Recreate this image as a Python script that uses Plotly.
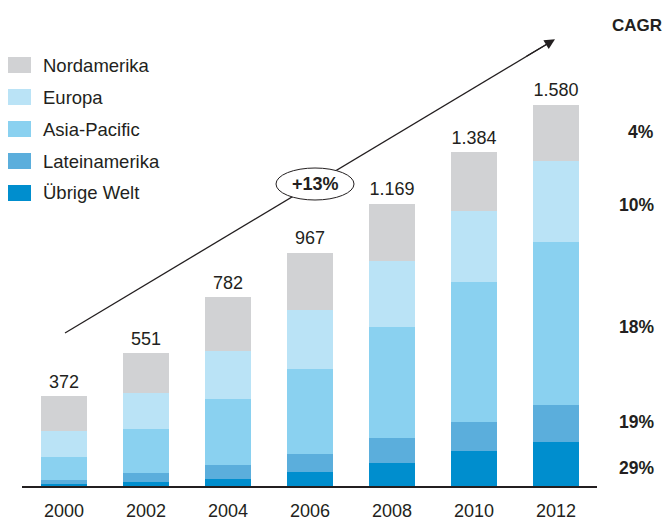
import plotly.graph_objects as go

years = ["2000", "2002", "2004", "2006", "2008", "2010", "2012"]
nordamerika = [145, 166, 222, 239, 236, 243, 232]
europa = [106, 149, 199, 244, 274, 297, 336]
asia_pacific = [96, 182, 274, 351, 460, 580, 677]
lateinamerika = [15, 37, 58, 75, 104, 120, 153]
uebrige_welt = [10, 17, 29, 58, 95, 144, 182]
cagr_labels = ["4%", "10%", "18%", "19%", "29%"]
growth_label = "+13%"

series_names = ["Nordamerika", "Europa", "Asia-Pacific", "Lateinamerika", "Übrige Welt"]
colors = ["#D1D2D4", "#BAE3F6", "#8AD1F0", "#5BAEDC", "#008ECE"]

totals = [a + b + c + d + e for a, b, c, d, e in
          zip(nordamerika, europa, asia_pacific, lateinamerika, uebrige_welt)]

W, H = 666, 521
ml, mr, mt, mb = 22, 69, 10, 35
pw, ph = W - ml - mr, H - mt - mb
FONT = "Liberation Sans, Arial, Helvetica, sans-serif"
TXT = "#231F20"


def px(x):
    return (x - ml) / pw


def py(y):
    return (H - mb - y) / ph


fig = go.Figure()
stack_order = [
    ("Übrige Welt", uebrige_welt, colors[4]),
    ("Lateinamerika", lateinamerika, colors[3]),
    ("Asia-Pacific", asia_pacific, colors[2]),
    ("Europa", europa, colors[1]),
    ("Nordamerika", nordamerika, colors[0]),
]
for name, vals, col in stack_order:
    fig.add_trace(go.Bar(x=years, y=vals, name=name, marker_color=col,
                         marker_line_width=0, showlegend=False))

fig.add_trace(go.Scatter(x=years, y=totals, mode="markers+text",
                         marker=dict(size=5, opacity=0),
                         texttemplate="%{y:,.0f}", textposition="top center",
                         textfont=dict(size=18, color=TXT, family=FONT),
                         showlegend=False, hoverinfo="skip"))

ymax = ph * 1580 / 381.0

fig.update_layout(
    width=W, height=H,
    margin=dict(l=ml, r=mr, t=mt, b=mb, autoexpand=False),
    plot_bgcolor="white", paper_bgcolor="white",
    barmode="stack", bargap=0.44,
    separators=",.",
    font=dict(family=FONT, color=TXT, size=18),
    xaxis=dict(type="category", range=[-0.512, 6.5], showline=True,
               linecolor=TXT, linewidth=1.5, ticks="", showgrid=False,
               automargin=False,
               tickfont=dict(size=18, color=TXT), ticklabelstandoff=8),
    yaxis=dict(range=[0, ymax], visible=False, showgrid=False, automargin=False),
)

shapes = []
annotations = []

# arrow line (tail to near tip), ellipse covering it
shapes.append(dict(type="line", xref="paper", yref="paper",
                   x0=px(65), y0=py(333), x1=px(548), y1=py(43.5),
                   line=dict(color=TXT, width=1.3)))
shapes.append(dict(type="circle", xref="paper", yref="paper",
                   x0=px(276), x1=px(354), y0=py(200), y1=py(168),
                   fillcolor="white", line=dict(color=TXT, width=1)))
annotations.append(dict(xref="paper", yref="paper", x=px(555), y=py(39.3),
                        ax=-30, ay=17.9, text="", showarrow=True,
                        arrowhead=2, arrowsize=1.6, arrowwidth=1.3,
                        arrowcolor=TXT))
annotations.append(dict(xref="paper", yref="paper", x=px(315), y=py(184),
                        text="<b>" + growth_label + "</b>", showarrow=False,
                        font=dict(size=18, color=TXT, family=FONT)))

# legend
leg_order = list(zip(series_names, colors))
for i, (name, col) in enumerate(leg_order):
    yc = 65 + 32 * i
    shapes.append(dict(type="rect", xref="paper", yref="paper",
                       x0=px(8), x1=px(31), y0=py(yc + 8), y1=py(yc - 8),
                       fillcolor=col, line=dict(width=0)))
    annotations.append(dict(xref="paper", yref="paper", x=px(41), y=py(yc),
                            xanchor="left", yanchor="middle", text=name,
                            showarrow=False,
                            font=dict(size=18.5, color=TXT, family=FONT)))

# CAGR column
annotations.append(dict(xref="paper", yref="paper", x=px(664), y=py(26),
                        xanchor="right", yanchor="middle", text="<b>CAGR</b>",
                        showarrow=False, font=dict(size=17, color=TXT, family=FONT)))
cagr_y = [131.7, 205, 327, 421.7, 468]
for lab, yc in zip(cagr_labels, cagr_y):
    annotations.append(dict(xref="paper", yref="paper", x=px(656), y=py(yc),
                            xanchor="right", yanchor="middle", text="<b>" + lab + "</b>",
                            showarrow=False, font=dict(size=17.5, color=TXT, family=FONT)))

fig.update_layout(shapes=shapes, annotations=annotations)
fig.write_html("out.html")
